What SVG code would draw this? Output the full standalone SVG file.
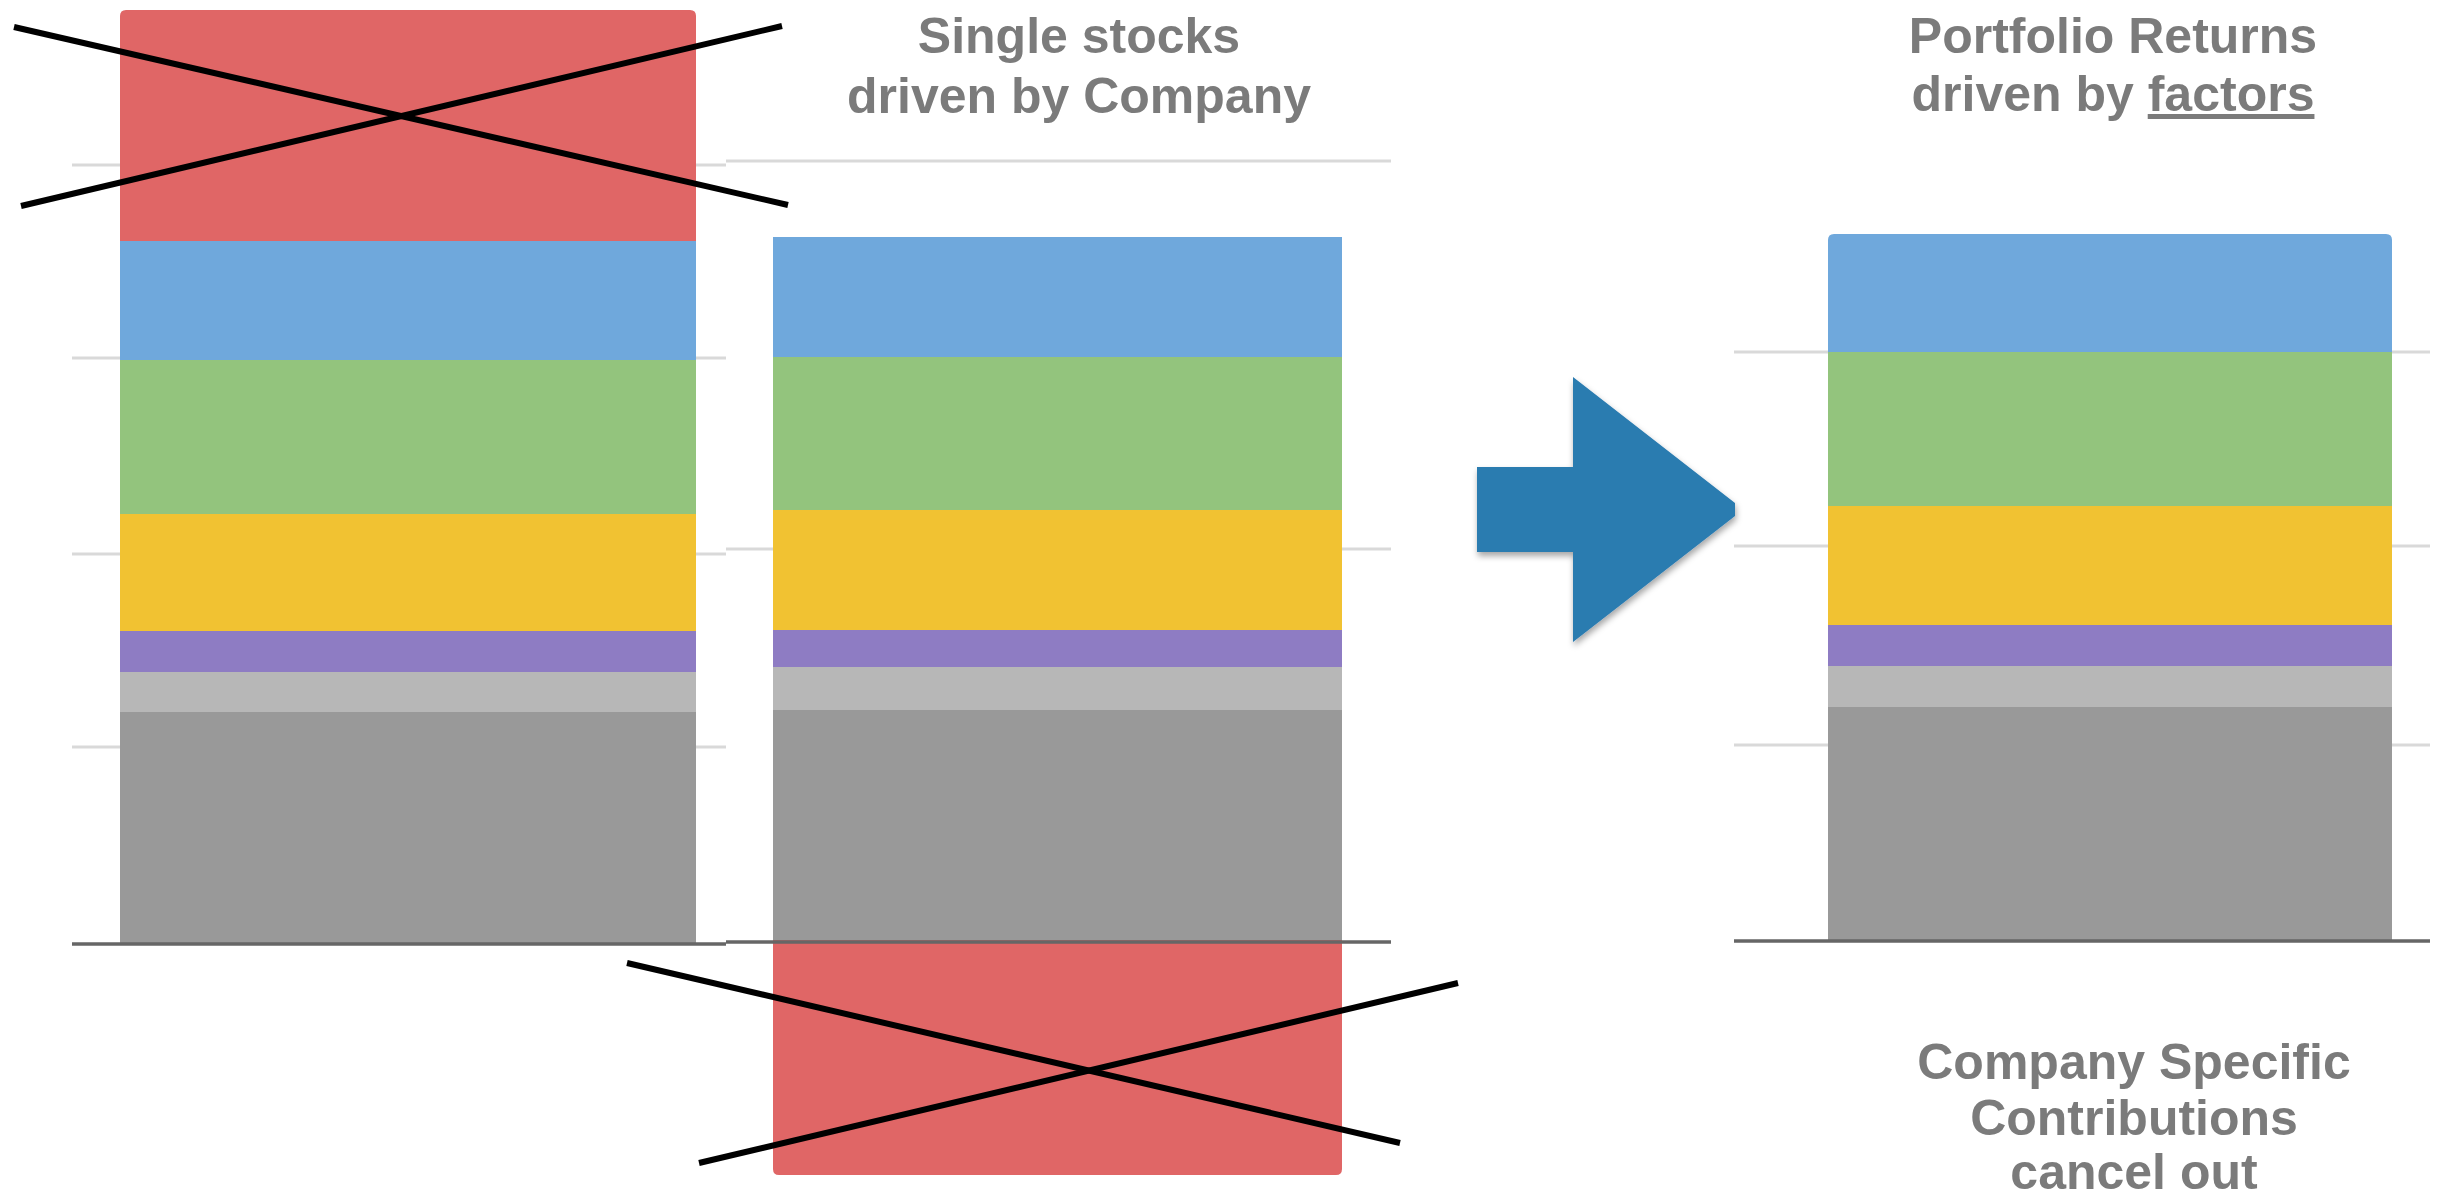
<svg xmlns="http://www.w3.org/2000/svg" width="2441" height="1199" viewBox="0 0 2441 1199">
<style>
.grid{stroke:#d9d9d9;stroke-width:3;fill:none}
.base{stroke:#666666;stroke-width:3.5;fill:none}
.cross{stroke:#000000;stroke-width:6;stroke-linecap:butt;fill:none}
.red{fill:#e06666}.blue{fill:#6fa8dc}.green{fill:#93c47d}.yellow{fill:#f1c232}
.purple{fill:#8e7cc3}.lgray{fill:#b7b7b7}.dgray{fill:#999999}
.title{font-family:"Liberation Sans",Arial,sans-serif;font-weight:bold;font-size:50px;fill:#7b7b7b;text-anchor:middle}
</style>
<defs>
<filter id="shadow" x="-10%" y="-10%" width="125%" height="130%">
<feDropShadow dx="1" dy="4" stdDeviation="3" flood-color="#000000" flood-opacity="0.35"/>
</filter>
</defs>
<rect width="2441" height="1199" fill="#ffffff"/>

<g id="chart-single-stock-1">
<line class="grid" x1="72" y1="165" x2="726" y2="165"/>
<line class="grid" x1="72" y1="358" x2="726" y2="358"/>
<line class="grid" x1="72" y1="554" x2="726" y2="554"/>
<line class="grid" x1="72" y1="747" x2="726" y2="747"/>
<path class="red" d="M120,241 V16 Q120,10 126,10 H690 Q696,10 696,16 V241 Z"/>
<rect class="blue" x="120" y="241" width="576" height="119"/>
<rect class="green" x="120" y="360" width="576" height="154"/>
<rect class="yellow" x="120" y="514" width="576" height="117"/>
<rect class="purple" x="120" y="631" width="576" height="41"/>
<rect class="lgray" x="120" y="672" width="576" height="40"/>
<rect class="dgray" x="120" y="712" width="576" height="231"/>
<line class="base" x1="72" y1="944" x2="726" y2="944"/>
<line class="cross" x1="14" y1="27" x2="788" y2="205"/>
<line class="cross" x1="21" y1="206" x2="782" y2="26"/>
</g>

<g id="chart-single-stock-2">
<line class="grid" x1="726" y1="161" x2="1391" y2="161"/>
<line class="grid" x1="726" y1="549" x2="1391" y2="549"/>
<rect class="blue" x="773" y="237" width="569" height="120"/>
<rect class="green" x="773" y="357" width="569" height="153"/>
<rect class="yellow" x="773" y="510" width="569" height="120"/>
<rect class="purple" x="773" y="630" width="569" height="37"/>
<rect class="lgray" x="773" y="667" width="569" height="43"/>
<rect class="dgray" x="773" y="710" width="569" height="230"/>
<path class="red" d="M773,940 H1342 V1169 Q1342,1175 1336,1175 H779 Q773,1175 773,1169 Z"/>
<line class="base" x1="726" y1="942" x2="1391" y2="942"/>
<line class="cross" x1="627" y1="963" x2="1400" y2="1143"/>
<line class="cross" x1="699" y1="1163" x2="1458" y2="983"/>
</g>

<g id="title-single-stocks">
<text class="title" x="1079" y="53">Single stocks</text>
<text class="title" x="1079" y="113">driven by Company</text>
</g>

<g id="chart-portfolio">
<line class="grid" x1="1734" y1="352" x2="2430" y2="352"/>
<line class="grid" x1="1734" y1="546" x2="2430" y2="546"/>
<line class="grid" x1="1734" y1="745" x2="2430" y2="745"/>
<path class="blue" d="M1828,352 V240 Q1828,234 1834,234 H2386 Q2392,234 2392,240 V352 Z"/>
<rect class="green" x="1828" y="352" width="564" height="154"/>
<rect class="yellow" x="1828" y="506" width="564" height="119"/>
<rect class="purple" x="1828" y="625" width="564" height="41"/>
<rect class="lgray" x="1828" y="666" width="564" height="41"/>
<rect class="dgray" x="1828" y="707" width="564" height="233"/>
<line class="base" x1="1734" y1="941" x2="2430" y2="941"/>
</g>

<g id="title-portfolio">
<text class="title" x="2113" y="53">Portfolio Returns</text>
<text class="title" x="2113" y="111">driven by <tspan text-decoration="underline">factors</tspan></text>
</g>

<g id="label-company-specific">
<text class="title" x="2134" y="1079">Company Specific</text>
<text class="title" x="2134" y="1135">Contributions</text>
<text class="title" x="2134" y="1189">cancel out</text>
</g>

<g id="connectors">
<polygon id="arrow" points="1477,467 1573,467 1573,377 1735,503 1735,516 1573,642 1573,552 1477,552" fill="#2b7bb0" filter="url(#shadow)"/>
</g>
</svg>
